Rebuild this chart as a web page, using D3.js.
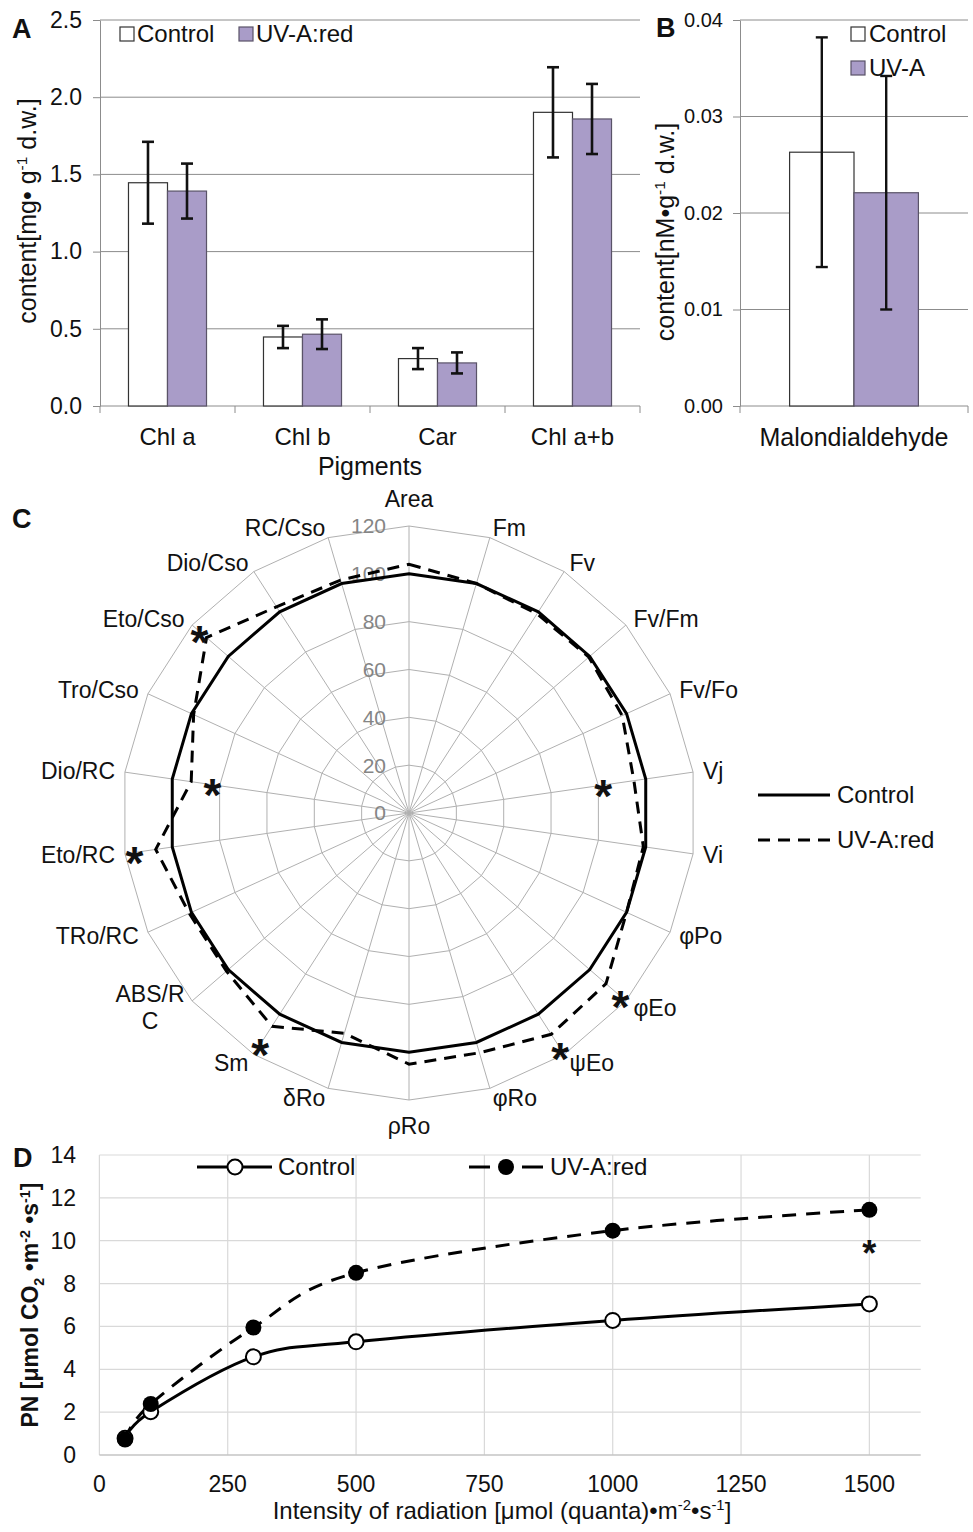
<!DOCTYPE html>
<html><head><meta charset="utf-8">
<script src="https://cdn.jsdelivr.net/npm/d3@7"></script>
<style>
body{margin:0;background:#fff}
svg{display:block}
text{font-family:"Liberation Sans",Arial,Helvetica,sans-serif;fill:#111}
</style>
</head><body>
<svg id="fig" width="973" height="1532"></svg>
<script>
// ---------------- DATA ----------------
// Panel A: pigments
const pigmentCats = ["Chl a", "Chl b", "Car", "Chl a+b"];
const pigControl = [1.446, 0.447, 0.307, 1.902];
const pigControlErr = [0.265, 0.072, 0.068, 0.292];
const pigUV = [1.392, 0.465, 0.279, 1.859];
const pigUVErr = [0.178, 0.096, 0.068, 0.227];
const pigTicks = [0, 0.5, 1.0, 1.5, 2.0, 2.5];
const seriesAB = ["Control", "UV-A:red"];

// Panel B: malondialdehyde
const mdaCats = ["Malondialdehyde"];
const mdaControl = [0.0263];
const mdaControlErr = [0.0119];
const mdaUV = [0.0221];
const mdaUVErr = [0.0121];
const mdaTicks = [0, 0.01, 0.02, 0.03, 0.04];
const seriesB = ["Control", "UV-A"];

// Panel C: radar (JIP-test parameters, % of control)
const jipParams = ["Area", "Fm", "Fv", "Fv/Fm", "Fv/Fo", "Vj", "Vi", "φPo", "φEo", "ψEo", "φRo", "ρRo", "δRo", "Sm", "ABS/R\nC", "TRo/RC", "Eto/RC", "Dio/RC", "Tro/Cso", "Eto/Cso", "Dio/Cso", "RC/Cso"];
const jipControl = [100, 100, 100, 100, 100, 100, 100, 100, 100, 100, 100, 100, 100, 100, 100, 100, 100, 100, 100, 100, 100, 100];
const jipUV = [104, 100, 99, 99.5, 98, 95, 99, 100, 109, 110, 104.5, 105, 96, 106, 101, 101, 107, 92, 99, 112, 102.5, 101.5];
const jipTicks = [0, 20, 40, 60, 80, 100, 120];
const jipStarParams = ["Vj", "φEo", "ψEo", "Sm", "Eto/RC", "Dio/RC", "Eto/Cso"];
const jipStarValues = [82, 117, 117, 115, 116, 83, 116];
const seriesC = ["Control", "UV-A:red"];

// Panel D: light response
const lightX = [50, 100, 300, 500, 1000, 1500];
const pnControl = [0.78, 2.02, 4.58, 5.28, 6.28, 7.05];
const pnUV = [0.72, 2.38, 5.95, 8.5, 10.47, 11.44];
const pnXTicks = [0, 250, 500, 750, 1000, 1250, 1500];
const pnYTicks = [0, 2, 4, 6, 8, 10, 12, 14];
const pnStarX = [1500];
const pnStarY = [9.8];
const seriesD = ["Control", "UV-A:red"];

// ---------------- HELPERS ----------------
const svg = d3.select("#fig");
const PURPLE = "#a99cc8";

function rich(t, parts, fs) {
  let shift = 0;
  parts.forEach(p => {
    const s = typeof p === "string" ? p : p[0];
    const k = typeof p === "string" ? "n" : p[1];
    const target = k === "sup" ? -0.36 * fs : k === "sub" ? 0.25 * fs : 0;
    const ts = t.append("tspan").text(s).attr("dy", target - shift);
    if (k !== "n") ts.attr("font-size", fs * 0.62);
    shift = target;
  });
}
function star(g, x, y, fs) {
  g.append("text").attr("x", x).attr("y", y + 0.58 * fs)
    .attr("text-anchor", "middle").attr("font-size", fs).attr("font-weight", "bold").text("*");
}

// ---------------- PANEL A ----------------
(function () {
  const P = {l: 100, r: 640, t: 20, b: 406};
  const g = svg.append("g");
  const x = d3.scaleBand().domain(pigmentCats).range([P.l, P.r]).padding(0);
  const xs = d3.scaleBand().domain(seriesAB).range([0, x.bandwidth()]).paddingInner(0).paddingOuter(0.73);
  const y = d3.scaleLinear().domain([0, 2.5]).range([P.b, P.t]);

  g.selectAll(".gr").data(pigTicks.slice(1)).join("line")
    .attr("x1", P.l).attr("x2", P.r).attr("y1", d => y(d)).attr("y2", d => y(d))
    .attr("stroke", "#8c8c8c").attr("stroke-width", 1);

  const ax = g.append("g").attr("transform", `translate(${P.l},0)`)
    .call(d3.axisLeft(y).tickValues(pigTicks).tickFormat(d3.format(".1f")).tickSize(7).tickSizeOuter(0).tickPadding(11));
  ax.attr("font-family", null).attr("font-size", null);
  ax.select(".domain").attr("stroke", "#8c8c8c");
  ax.selectAll(".tick line").attr("stroke", "#8c8c8c");
  ax.selectAll(".tick text").attr("font-size", 23).attr("fill", "#111");

  g.append("line").attr("x1", P.l).attr("x2", P.r).attr("y1", P.b).attr("y2", P.b).attr("stroke", "#8c8c8c");
  const bounds = pigmentCats.map(c => x(c)).concat([P.r]);
  g.selectAll(".bt").data(bounds).join("line")
    .attr("x1", d => d).attr("x2", d => d).attr("y1", P.b).attr("y2", P.b + 7).attr("stroke", "#8c8c8c");

  const rows = pigmentCats.map((c, i) => [
    {c, s: seriesAB[0], v: pigControl[i], e: pigControlErr[i]},
    {c, s: seriesAB[1], v: pigUV[i], e: pigUVErr[i]}
  ]).flat();
  g.selectAll(".bar").data(rows).join("rect")
    .attr("x", d => x(d.c) + xs(d.s)).attr("width", xs.bandwidth())
    .attr("y", d => y(d.v)).attr("height", d => y(0) - y(d.v))
    .attr("fill", d => d.s === seriesAB[0] ? "#fff" : PURPLE)
    .attr("stroke", d => d.s === seriesAB[0] ? "#333" : "#5a5368").attr("stroke-width", 1.2);
  const eb = g.selectAll(".eb").data(rows).join("g")
    .attr("transform", d => `translate(${x(d.c) + xs(d.s) + xs.bandwidth() / 2},0)`)
    .attr("stroke", "#111").attr("stroke-width", 2.6);
  eb.append("line").attr("y1", d => y(d.v + d.e)).attr("y2", d => y(d.v - d.e));
  eb.append("line").attr("x1", -6).attr("x2", 6).attr("y1", d => y(d.v + d.e)).attr("y2", d => y(d.v + d.e));
  eb.append("line").attr("x1", -6).attr("x2", 6).attr("y1", d => y(d.v - d.e)).attr("y2", d => y(d.v - d.e));

  g.selectAll(".xl").data(pigmentCats).join("text")
    .attr("x", d => x(d) + x.bandwidth() / 2).attr("y", 437).attr("dy", "0.35em")
    .attr("text-anchor", "middle").attr("font-size", 24).text(d => d);
  g.append("text").attr("x", 370).attr("y", 466).attr("dy", "0.35em").attr("text-anchor", "middle")
    .attr("font-size", 25).text("Pigments");
  const yt = g.append("text").attr("transform", "translate(36,211) rotate(-90)").attr("text-anchor", "middle").attr("font-size", 25);
  rich(yt, ["content[mg• g", ["-1", "sup"], " d.w.]"], 25);
  g.append("text").attr("x", 12).attr("y", 38).attr("font-size", 27).attr("font-weight", "bold").text("A");

  // legend
  const lg = g.append("g");
  const lx = [120, 239];
  seriesAB.forEach((s, i) => {
    lg.append("rect").attr("x", lx[i]).attr("y", 27).attr("width", 14).attr("height", 14)
      .attr("fill", i === 0 ? "#fff" : PURPLE).attr("stroke", i === 0 ? "#333" : "#5a5368").attr("stroke-width", 1.2);
    lg.append("text").attr("x", lx[i] + 17).attr("y", 34).attr("dy", "0.35em").attr("font-size", 24).text(s);
  });
})();

// ---------------- PANEL B ----------------
(function () {
  const P = {l: 740, r: 968, t: 20, b: 406};
  const g = svg.append("g");
  const x = d3.scaleBand().domain(mdaCats).range([P.l, P.r]).padding(0);
  const xs = d3.scaleBand().domain(seriesB).range([0, x.bandwidth()]).paddingInner(0).paddingOuter(0.77);
  const y = d3.scaleLinear().domain([0, 0.04]).range([P.b, P.t]);

  g.selectAll(".gr").data(mdaTicks.slice(1)).join("line")
    .attr("x1", P.l).attr("x2", P.r).attr("y1", d => y(d)).attr("y2", d => y(d))
    .attr("stroke", "#8c8c8c");
  const ax = g.append("g").attr("transform", `translate(${P.l},0)`)
    .call(d3.axisLeft(y).tickValues(mdaTicks).tickFormat(d3.format(".2f")).tickSize(7).tickSizeOuter(0).tickPadding(10));
  ax.attr("font-family", null).attr("font-size", null);
  ax.select(".domain").attr("stroke", "#8c8c8c");
  ax.selectAll(".tick line").attr("stroke", "#8c8c8c");
  ax.selectAll(".tick text").attr("font-size", 20).attr("fill", "#111");
  g.append("line").attr("x1", P.l).attr("x2", P.r).attr("y1", P.b).attr("y2", P.b).attr("stroke", "#8c8c8c");
  g.selectAll(".bt").data([P.l, P.r]).join("line")
    .attr("x1", d => d).attr("x2", d => d).attr("y1", P.b).attr("y2", P.b + 7).attr("stroke", "#8c8c8c");

  const rows = [
    {c: mdaCats[0], s: seriesB[0], v: mdaControl[0], e: mdaControlErr[0]},
    {c: mdaCats[0], s: seriesB[1], v: mdaUV[0], e: mdaUVErr[0]}
  ];
  g.selectAll(".bar").data(rows).join("rect")
    .attr("x", d => x(d.c) + xs(d.s)).attr("width", xs.bandwidth())
    .attr("y", d => y(d.v)).attr("height", d => y(0) - y(d.v))
    .attr("fill", d => d.s === seriesB[0] ? "#fff" : PURPLE)
    .attr("stroke", d => d.s === seriesB[0] ? "#333" : "#5a5368").attr("stroke-width", 1.2);
  const eb = g.selectAll(".eb").data(rows).join("g")
    .attr("transform", d => `translate(${x(d.c) + xs(d.s) + xs.bandwidth() / 2},0)`)
    .attr("stroke", "#111").attr("stroke-width", 2.4);
  eb.append("line").attr("y1", d => y(d.v + d.e)).attr("y2", d => y(d.v - d.e));
  eb.append("line").attr("x1", -6).attr("x2", 6).attr("y1", d => y(d.v + d.e)).attr("y2", d => y(d.v + d.e));
  eb.append("line").attr("x1", -6).attr("x2", 6).attr("y1", d => y(d.v - d.e)).attr("y2", d => y(d.v - d.e));

  g.append("text").attr("x", x(mdaCats[0]) + x.bandwidth() / 2).attr("y", 437).attr("dy", "0.35em")
    .attr("text-anchor", "middle").attr("font-size", 25).text(mdaCats[0]);
  const yt = g.append("text").attr("transform", "translate(674,232) rotate(-90)").attr("text-anchor", "middle").attr("font-size", 25);
  rich(yt, ["content[nM•g", ["-1", "sup"], " d.w.]"], 25);
  g.append("text").attr("x", 656).attr("y", 37).attr("font-size", 27).attr("font-weight", "bold").text("B");

  const ly = [27, 61];
  seriesB.forEach((s, i) => {
    g.append("rect").attr("x", 851).attr("y", ly[i]).attr("width", 14).attr("height", 14)
      .attr("fill", i === 0 ? "#fff" : PURPLE).attr("stroke", i === 0 ? "#333" : "#5a5368").attr("stroke-width", 1.2);
    g.append("text").attr("x", 869).attr("y", ly[i] + 7).attr("dy", "0.35em").attr("font-size", 24).text(s);
  });
})();

// ---------------- PANEL C ----------------
(function () {
  const cx = 409, cy = 813, R = 287;
  const n = jipParams.length;
  const g = svg.append("g");
  const gc = g.append("g").attr("transform", `translate(${cx},${cy})`);
  const r = d3.scaleLinear().domain([0, 120]).range([0, R]);
  const ang = i => i * 2 * Math.PI / n;
  const radial = d3.lineRadial().angle((d, i) => ang(i)).radius(d => r(d)).curve(d3.curveLinearClosed);

  // rings
  gc.selectAll(".ring").data(jipTicks.slice(1)).join("path")
    .attr("d", v => radial(jipParams.map(() => v)))
    .attr("fill", "none").attr("stroke", "#b0b0b0").attr("stroke-width", 1);
  // spokes
  gc.selectAll(".spoke").data(jipParams).join("line")
    .attr("x1", 0).attr("y1", 0)
    .attr("x2", (d, i) => r(120) * Math.sin(ang(i)))
    .attr("y2", (d, i) => -r(120) * Math.cos(ang(i)))
    .attr("stroke", "#b0b0b0").attr("stroke-width", 1);
  // ring labels
  gc.selectAll(".rl").data(jipTicks).join("text")
    .attr("x", -23).attr("y", d => -r(d)).attr("dy", "0.35em").attr("text-anchor", "end")
    .attr("font-size", 21).style("fill", "#858585").text(d => d);

  // series
  gc.append("path").attr("d", radial(jipControl)).attr("fill", "none")
    .attr("stroke", "#000").attr("stroke-width", 3).attr("stroke-linejoin", "miter");
  gc.append("path").attr("d", radial(jipUV)).attr("fill", "none")
    .attr("stroke", "#000").attr("stroke-width", 3).attr("stroke-dasharray", "12,8");

  // stars
  jipStarParams.forEach((p, k) => {
    const i = jipParams.indexOf(p);
    const v = jipStarValues[k];
    star(gc, r(v) * Math.sin(ang(i)), -r(v) * Math.cos(ang(i)), 46);
  });

  // labels
  jipParams.forEach((p, i) => {
    const s = Math.sin(ang(i)), c = Math.cos(ang(i));
    const px = (R + 10) * s, py = -(R + 10) * c;
    const lines = p.split("\n");
    const mid = Math.abs(s) < 0.15;
    const anchor = mid ? "middle" : (s > 0 ? "start" : "end");
    const yc = py + (mid ? (c > 0 ? -17 : 16) : 0);
    if (lines.length === 1) {
      gc.append("text").attr("x", px).attr("y", yc).attr("dy", "0.35em")
        .attr("text-anchor", anchor).attr("font-size", 23).text(p);
    } else {
      const ts = lines.map((l, k) => gc.append("text").attr("y", yc + (k - (lines.length - 1) / 2) * 27)
        .attr("dy", "0.35em").attr("font-size", 23).attr("text-anchor", "middle").text(l));
      const w = d3.max(ts, t => t.node().getComputedTextLength());
      const xc = anchor === "end" ? px - w / 2 : anchor === "start" ? px + w / 2 : px;
      ts.forEach(t => t.attr("x", xc));
    }
  });

  // legend
  const ly = [795, 840];
  seriesC.forEach((s, k) => {
    g.append("line").attr("x1", 758).attr("x2", 830).attr("y1", ly[k]).attr("y2", ly[k])
      .attr("stroke", "#000").attr("stroke-width", 3).attr("stroke-dasharray", k ? "12,8" : null);
    g.append("text").attr("x", 837).attr("y", ly[k]).attr("dy", "0.35em").attr("font-size", 24).text(s);
  });
  g.append("text").attr("x", 12).attr("y", 528).attr("font-size", 27).attr("font-weight", "bold").text("C");
})();

// ---------------- PANEL D ----------------
(function () {
  const P = {l: 99.4, r: 920.7, t: 1155, b: 1455};
  const g = svg.append("g");
  const x = d3.scaleLinear().domain([0, 1600]).range([P.l, P.r]);
  const y = d3.scaleLinear().domain([0, 14]).range([P.b, P.t]);

  g.selectAll(".hg").data(pnYTicks.slice(1)).join("line")
    .attr("x1", P.l).attr("x2", P.r).attr("y1", d => y(d)).attr("y2", d => y(d))
    .attr("stroke", "#d9d9d9").attr("stroke-width", 1.2);
  g.selectAll(".vg").data(pnXTicks).join("line")
    .attr("x1", d => x(d)).attr("x2", d => x(d)).attr("y1", P.t).attr("y2", P.b)
    .attr("stroke", "#d9d9d9").attr("stroke-width", 1.2);
  g.append("line").attr("x1", P.l).attr("x2", P.r).attr("y1", P.b).attr("y2", P.b)
    .attr("stroke", "#c4c4c4").attr("stroke-width", 1.5);

  g.selectAll(".yl").data(pnYTicks).join("text")
    .attr("x", 76).attr("y", d => y(d)).attr("dy", "0.35em").attr("text-anchor", "end")
    .attr("font-size", 23).text(d => d);
  g.selectAll(".xl").data(pnXTicks).join("text")
    .attr("x", d => x(d)).attr("y", 1484).attr("dy", "0.35em").attr("text-anchor", "middle")
    .attr("font-size", 23).text(d => d);

  const line = d3.line().x(d => x(d[0])).y(d => y(d[1])).curve(d3.curveCardinal.tension(0));
  const cData = lightX.map((v, i) => [v, pnControl[i]]);
  const uData = lightX.map((v, i) => [v, pnUV[i]]);
  g.append("path").attr("d", line(cData)).attr("fill", "none").attr("stroke", "#000").attr("stroke-width", 3);
  g.append("path").attr("d", line(uData)).attr("fill", "none").attr("stroke", "#000").attr("stroke-width", 3)
    .attr("stroke-dasharray", "14,10");
  g.selectAll(".mc").data(cData).join("circle")
    .attr("cx", d => x(d[0])).attr("cy", d => y(d[1])).attr("r", 7.5)
    .attr("fill", "#fff").attr("stroke", "#000").attr("stroke-width", 2);
  g.selectAll(".mu").data(uData).join("circle")
    .attr("cx", d => x(d[0])).attr("cy", d => y(d[1])).attr("r", 8)
    .attr("fill", "#000");
  pnStarX.forEach((sx, i) => star(g, x(sx), y(pnStarY[i]), 36));

  // legend
  const ly = 1167;
  g.append("line").attr("x1", 197).attr("x2", 272).attr("y1", ly).attr("y2", ly).attr("stroke", "#000").attr("stroke-width", 3);
  g.append("circle").attr("cx", 235).attr("cy", ly).attr("r", 7.5).attr("fill", "#fff").attr("stroke", "#000").attr("stroke-width", 2);
  g.append("text").attr("x", 278).attr("y", ly).attr("dy", "0.35em").attr("font-size", 24).text(seriesD[0]);
  g.append("line").attr("x1", 469).attr("x2", 490).attr("y1", ly).attr("y2", ly).attr("stroke", "#000").attr("stroke-width", 3);
  g.append("line").attr("x1", 522).attr("x2", 543).attr("y1", ly).attr("y2", ly).attr("stroke", "#000").attr("stroke-width", 3);
  g.append("circle").attr("cx", 506).attr("cy", ly).attr("r", 8).attr("fill", "#000");
  g.append("text").attr("x", 550).attr("y", ly).attr("dy", "0.35em").attr("font-size", 24).text(seriesD[1]);

  const xt = g.append("text").attr("x", 502).attr("y", 1519).attr("dy", "0.35em").attr("text-anchor", "middle").attr("font-size", 24);
  rich(xt, ["Intensity of radiation [μmol (quanta)•m", ["-2", "sup"], "•s", ["-1", "sup"], "]"], 24);
  const yt = g.append("text").attr("transform", "translate(38,1305) rotate(-90)").attr("text-anchor", "middle")
    .attr("font-size", 23).attr("font-weight", "bold");
  rich(yt, ["PN [μmol CO", ["2", "sub"], " •m", ["-2", "sup"], " •s", ["-1", "sup"], "]"], 23);
  g.append("text").attr("x", 13).attr("y", 1167).attr("font-size", 27).attr("font-weight", "bold").text("D");
})();
</script>
</body></html>
